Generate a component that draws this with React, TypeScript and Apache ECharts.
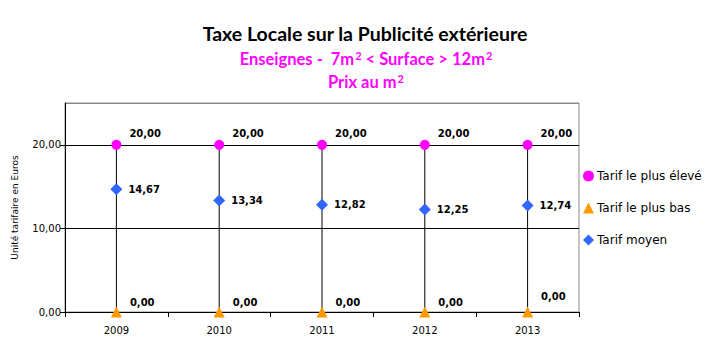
import React, { useEffect, useRef } from "react";
import * as echarts from "echarts";

const years = ["2009", "2010", "2011", "2012", "2013"];
const highest = [20, 20, 20, 20, 20];
const lowest = [0, 0, 0, 0, 0];
const average = [14.67, 13.34, 12.82, 12.25, 12.74];
const seriesNames = ["Tarif le plus élevé", "Tarif le plus bas", "Tarif moyen"];

const fmt = (v: number) => v.toFixed(2).replace(".", ",");
const labelFont = "DejaVu Sans";

const subRich = {
  a: { fontFamily: "Lato", fontSize: 16.5, fontWeight: "bold", color: "#ff00ff", verticalAlign: "bottom" },
  s: { fontFamily: "Lato", fontSize: 11, fontWeight: "bold", color: "#ff00ff", verticalAlign: "bottom", padding: [0, 0, 6, 1] },
};

export default function App() {
  const ref = useRef<HTMLDivElement>(null);
  useEffect(() => {
    document.body.style.margin = "0";
    const chart = echarts.init(ref.current!, null, { renderer: "svg" });
    const hlData = years.map((_, i) => [i, highest[i], lowest[i]]);
    chart.setOption({
      animation: false,
      backgroundColor: "#fff",
      title: [
        {
          text: "Taxe Locale sur la Publicité extérieure",
          left: 360, top: 18, textAlign: "center",
          textStyle: { fontFamily: "Lato", fontSize: 19.5, fontWeight: "bold", color: "#000" },
        },
        {
          text: "{a|Enseignes -  7m}{s|2}{a| < Surface > 12m}{s|2}",
          left: 361, top: 45, textAlign: "center",
          textStyle: { rich: subRich },
        },
        {
          text: "{a|Prix au m}{s|2}",
          left: 361, top: 68, textAlign: "center",
          textStyle: { rich: subRich },
        },
      ],
      legend: {
        orient: "vertical",
        left: 578, top: 165,
        itemGap: 20, itemWidth: 11, itemHeight: 11,
        data: [
          { name: seriesNames[0], icon: "circle" },
          { name: seriesNames[1], icon: "triangle" },
          { name: seriesNames[2], icon: "diamond" },
        ],
        textStyle: { fontFamily: labelFont, fontSize: 12, color: "#000", padding: [0, 0, 0, -2] },
      },
      grid: {
        left: 65, top: 103, width: 514, height: 209,
        show: true, borderColor: "#888", borderWidth: 1, backgroundColor: "transparent",
      },
      xAxis: {
        type: "category",
        data: years,
        boundaryGap: true,
        axisLine: { lineStyle: { color: "#000", width: 1 } },
        axisTick: { show: true, length: 5, lineStyle: { color: "#000" } },
        axisLabel: { fontFamily: labelFont, fontSize: 10, color: "#000", margin: 13 },
      },
      yAxis: {
        type: "value",
        min: 0, max: 25, interval: 10,
        name: "Unité tarifaire en Euros",
        nameLocation: "middle",
        nameGap: 46,
        nameTextStyle: { fontFamily: labelFont, fontSize: 9, color: "#000" },
        axisLine: { show: true, lineStyle: { color: "#000", width: 1 } },
        axisTick: { show: true, length: 5, lineStyle: { color: "#000" } },
        axisLabel: {
          fontFamily: labelFont, fontSize: 10, color: "#000", margin: 4,
          showMaxLabel: false,
          formatter: (v: number) => fmt(v),
        },
        splitLine: { show: true, lineStyle: { color: ["#000", "#000", "#000", "#888"], width: 1 } },
      },
      series: [
        {
          type: "custom",
          name: "hl",
          data: hlData,
          z: 1,
          silent: true,
          renderItem: (params: any, api: any) => {
            const p1 = api.coord([api.value(0), api.value(1)]);
            const p2 = api.coord([api.value(0), api.value(2)]);
            return {
              type: "line",
              shape: { x1: p1[0], y1: p1[1], x2: p2[0], y2: p2[1] },
              style: { stroke: "#000", lineWidth: 1 },
            };
          },
        },
        {
          type: "line",
          name: seriesNames[0],
          data: highest,
          z: 3,
          lineStyle: { width: 0, opacity: 0 },
          symbol: "circle",
          symbolSize: 10,
          itemStyle: { color: "#ff00ff" },
          label: {
            show: true, position: "right", distance: 8, offset: [0, -11],
            formatter: (p: any) => fmt(p.value),
            fontFamily: labelFont, fontSize: 10, fontWeight: "bold", color: "#000",
          },
        },
        {
          type: "line",
          name: seriesNames[1],
          data: lowest.map((v, i) => (i === 4 ? { value: v, label: { offset: [0, -16] } } : v)),
          z: 3,
          lineStyle: { width: 0, opacity: 0 },
          symbol: "triangle",
          symbolSize: 11,
          itemStyle: { color: "#ff9900" },
          label: {
            show: true, position: "right", distance: 8, offset: [0, -10],
            formatter: (p: any) => fmt(p.value),
            fontFamily: labelFont, fontSize: 10, fontWeight: "bold", color: "#000",
          },
        },
        {
          type: "line",
          name: seriesNames[2],
          data: average,
          z: 3,
          lineStyle: { width: 0, opacity: 0 },
          symbol: "diamond",
          symbolSize: 12,
          itemStyle: { color: "#3366ff" },
          label: {
            show: true, position: "right", distance: 6,
            formatter: (p: any) => fmt(p.value),
            fontFamily: labelFont, fontSize: 10, fontWeight: "bold", color: "#000",
          },
        },
      ],
    });
    return () => chart.dispose();
  }, []);
  return <div ref={ref} style={{ width: 721, height: 351 }} />;
}
